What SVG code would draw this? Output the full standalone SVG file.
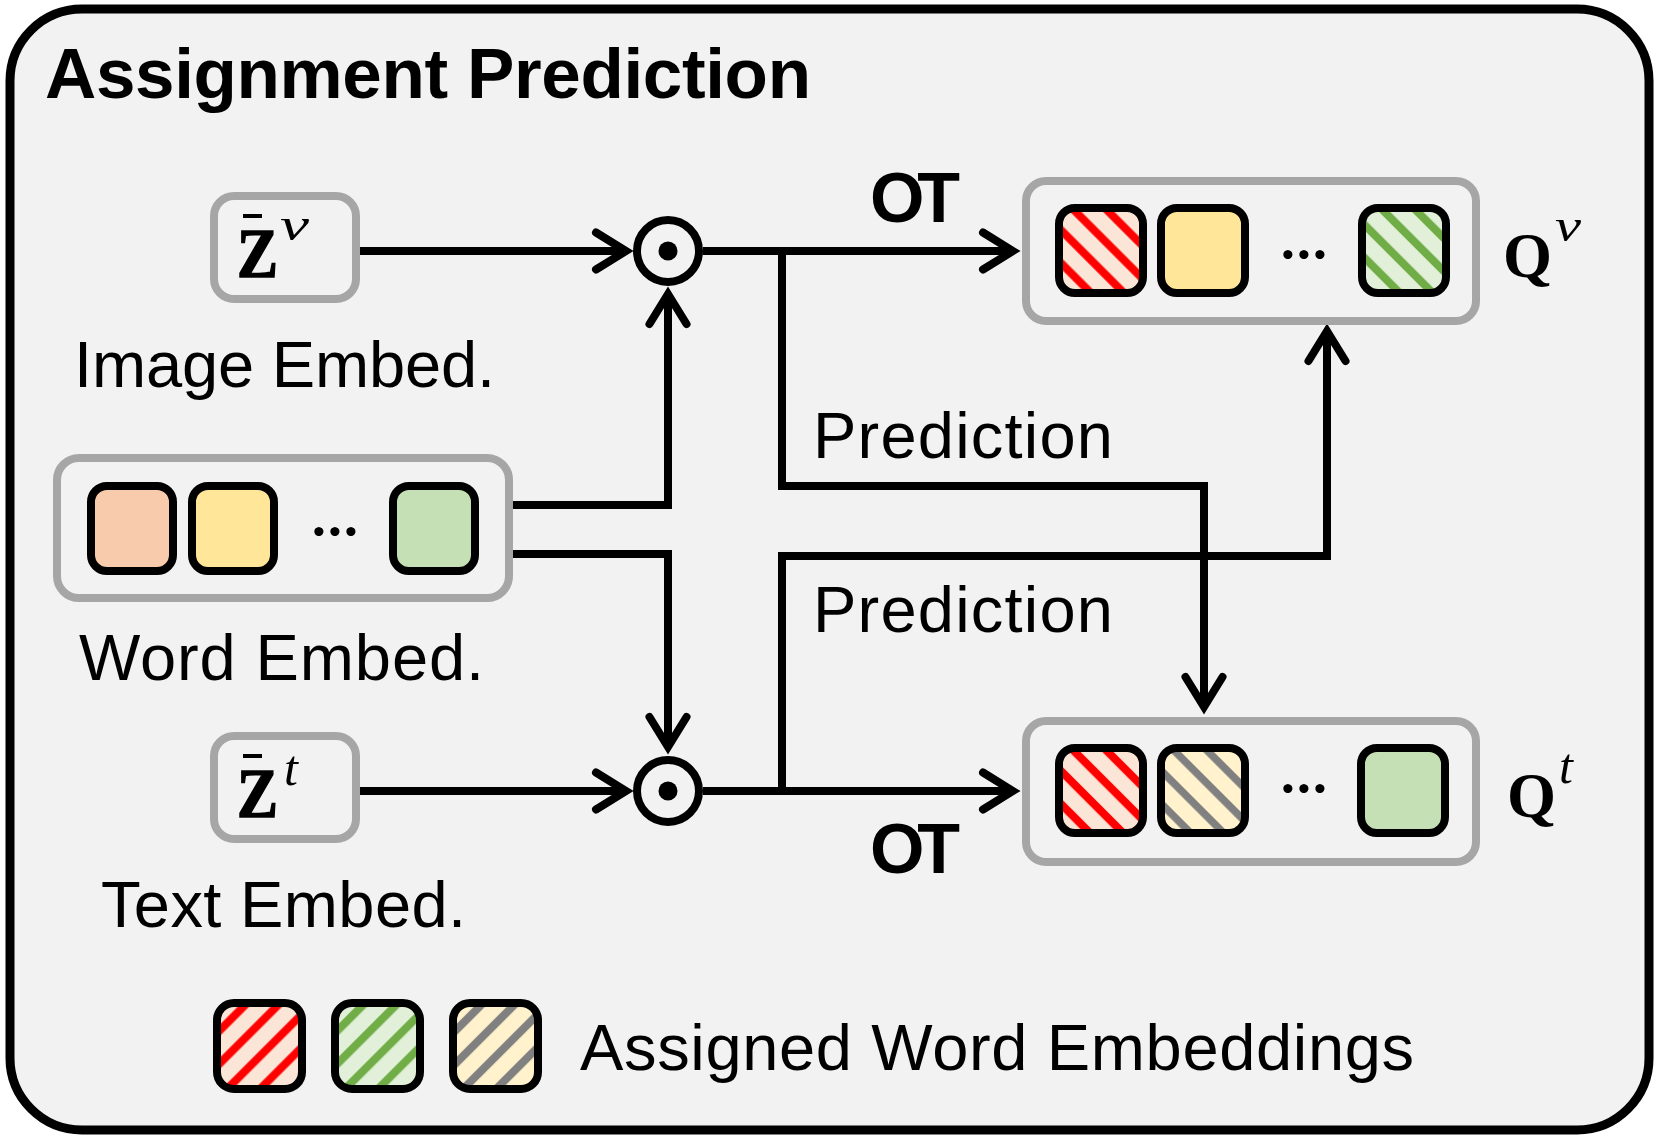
<svg xmlns="http://www.w3.org/2000/svg" width="1660" height="1137" viewBox="0 0 1660 1137">
<style>
.lbl{font-family:"Liberation Sans",Arial,sans-serif;font-size:65px;fill:#000}
.bold{font-family:"Liberation Sans",Arial,sans-serif;font-weight:bold;fill:#000}
.math{font-family:"Liberation Serif","Times New Roman",serif;font-weight:bold;fill:#000}
.zb{stroke:#000;stroke-width:1.5}
.sup{font-family:"Liberation Serif","Times New Roman",serif;font-style:italic;fill:#000}
.gbox{fill:#f2f2f2;stroke:#a6a6a6;stroke-width:8}
.sq{stroke:#000;stroke-width:8}
.wire{fill:none;stroke:#000;stroke-width:8;stroke-linejoin:miter}
.arr{marker-end:url(#ah)}
.dots{font-family:Lato,"Liberation Sans",sans-serif;font-weight:bold;font-size:60px;text-anchor:middle;fill:#000}
</style>
<defs>
<marker id="ah" markerUnits="userSpaceOnUse" markerWidth="80" markerHeight="80" viewBox="-40 -40 80 80" refX="0" refY="0" orient="auto" overflow="visible">
<path d="M-30,-18.5 L0,0 L-30,18.5" fill="none" stroke="#000" stroke-width="8" stroke-linecap="round" stroke-linejoin="miter"/>
</marker>
<pattern id="pr1" patternUnits="userSpaceOnUse" width="23.33" height="23.33" patternTransform="rotate(-45)"><rect width="23.33" height="23.33" fill="#fbe5d6"/><rect x="0.3" width="8" height="23.33" fill="#ff0000"/></pattern>
<pattern id="pg1" patternUnits="userSpaceOnUse" width="23.33" height="23.33" patternTransform="rotate(-45)"><rect width="23.33" height="23.33" fill="#e2f0d9"/><rect x="8.7" width="8" height="23.33" fill="#70ad47"/></pattern>
<pattern id="pr2" patternUnits="userSpaceOnUse" width="23.33" height="23.33" patternTransform="rotate(-45)"><rect width="23.33" height="23.33" fill="#fbe5d6"/><rect x="14.4" width="8" height="23.33" fill="#ff0000"/></pattern>
<pattern id="py2" patternUnits="userSpaceOnUse" width="23.33" height="23.33" patternTransform="rotate(-45)"><rect width="23.33" height="23.33" fill="#fff2cc"/><rect x="15.8" width="8" height="23.33" fill="#808080"/></pattern>
<pattern id="lr" patternUnits="userSpaceOnUse" width="23.33" height="23.33" patternTransform="rotate(45)"><rect width="23.33" height="23.33" fill="#fbe5d6"/><rect x="16.8" width="8" height="23.33" fill="#ff0000"/><rect x="-6.53" width="8" height="23.33" fill="#ff0000"/></pattern>
<pattern id="lg" patternUnits="userSpaceOnUse" width="23.33" height="23.33" patternTransform="rotate(45)"><rect width="23.33" height="23.33" fill="#e2f0d9"/><rect x="6.9" width="8" height="23.33" fill="#70ad47"/></pattern>
<pattern id="ly" patternUnits="userSpaceOnUse" width="23.33" height="23.33" patternTransform="rotate(45)"><rect width="23.33" height="23.33" fill="#fff2cc"/><rect x="-3" width="8" height="23.33" fill="#808080"/><rect x="20.33" width="8" height="23.33" fill="#808080"/></pattern>
</defs>

<rect id="frame" x="10" y="9" width="1639" height="1121" rx="72" ry="72" fill="#f2f2f2" stroke="#000" stroke-width="9"/>
<text class="bold" x="45" y="98" font-size="71" textLength="766">Assignment Prediction</text>

<g id="connectors">
<path class="wire arr" d="M356,251 H626"/>
<path class="wire arr" d="M356,791 H626"/>
<path class="wire arr" d="M509,505 H668 V294"/>
<path class="wire arr" d="M509,554 H668 V747"/>
<path class="wire arr" d="M703,251 H1013"/>
<path class="wire arr" d="M703,791 H1013"/>
<path class="wire arr" d="M782,251 V486 H1204 V707"/>
<path class="wire arr" d="M782,791 V556 H1327 V331"/>
</g>

<g id="labels">
<text class="bold" x="870" y="222" font-size="70" textLength="90">OT</text>
<text class="bold" x="870" y="873" font-size="70" textLength="90">OT</text>
<text class="lbl" x="813" y="458" textLength="300">Prediction</text>
<text class="lbl" x="813" y="632" textLength="300">Prediction</text>
</g>

<g id="zv">
<rect class="gbox" x="214" y="196" width="142" height="103" rx="20"/>
<rect x="243" y="214" width="19" height="4" fill="#000"/>
<text class="math zb" x="237" y="277" font-size="69" textLength="41" lengthAdjust="spacingAndGlyphs">Z</text>
<text class="sup" x="280" y="240" font-size="46" textLength="29" lengthAdjust="spacingAndGlyphs">v</text>
<text class="lbl" x="74" y="387" textLength="421">Image Embed.</text>
</g>

<g id="zt">
<rect class="gbox" x="214" y="736" width="142" height="103" rx="20"/>
<rect x="243" y="754" width="19" height="4" fill="#000"/>
<text class="math zb" x="237" y="817" font-size="69" textLength="41" lengthAdjust="spacingAndGlyphs">Z</text>
<text class="sup" x="284" y="785" font-size="50">t</text>
<text class="lbl" x="101" y="927" textLength="365">Text Embed.</text>
</g>

<g id="word">
<rect class="gbox" x="57" y="458" width="452" height="140" rx="22"/>
<rect class="sq" x="91" y="486" width="82" height="85" rx="16" fill="#f8cbad"/>
<rect class="sq" x="192" y="486" width="82" height="85" rx="16" fill="#ffe699"/>
<text class="dots" x="335" y="536">…</text>
<rect class="sq" x="393" y="486" width="82" height="85" rx="16" fill="#c5e0b4"/>
<text class="lbl" x="79" y="680" textLength="405">Word Embed.</text>
</g>

<g id="odot1">
<circle cx="668" cy="251" r="31" fill="#f2f2f2" stroke="#000" stroke-width="8"/>
<circle cx="668" cy="251" r="9.5" fill="#000"/>
</g>
<g id="odot2">
<circle cx="668" cy="791" r="31" fill="#f2f2f2" stroke="#000" stroke-width="8"/>
<circle cx="668" cy="791" r="9.5" fill="#000"/>
</g>

<g id="qv">
<rect class="gbox" x="1026" y="181" width="450" height="140" rx="20"/>
<rect class="sq" x="1059" y="208" width="84" height="85" rx="16" fill="url(#pr1)"/>
<rect class="sq" x="1161" y="208" width="84" height="85" rx="16" fill="#ffe699"/>
<text class="dots" x="1304" y="259">…</text>
<rect class="sq" x="1362" y="208" width="84" height="85" rx="16" fill="url(#pg1)"/>
<text class="math" x="1503" y="277" font-size="63">Q</text>
<text class="sup" x="1555" y="241" font-size="46" textLength="26" lengthAdjust="spacingAndGlyphs">v</text>
</g>

<g id="qt">
<rect class="gbox" x="1026" y="721" width="450" height="141" rx="20"/>
<rect class="sq" x="1059" y="748" width="84" height="85" rx="16" fill="url(#pr2)"/>
<rect class="sq" x="1161" y="748" width="84" height="85" rx="16" fill="url(#py2)"/>
<text class="dots" x="1304" y="793">…</text>
<rect class="sq" x="1361" y="748" width="84" height="85" rx="16" fill="#c5e0b4"/>
<text class="math" x="1507" y="817" font-size="63">Q</text>
<text class="sup" x="1559" y="783" font-size="50">t</text>
</g>

<g id="legend">
<rect class="sq" x="217" y="1003" width="85" height="86" rx="17" fill="url(#lr)"/>
<rect class="sq" x="335" y="1003" width="85" height="86" rx="17" fill="url(#lg)"/>
<rect class="sq" x="453" y="1003" width="85" height="86" rx="17" fill="url(#ly)"/>
<text class="lbl" x="580" y="1070" textLength="834">Assigned Word Embeddings</text>
</g>
</svg>
